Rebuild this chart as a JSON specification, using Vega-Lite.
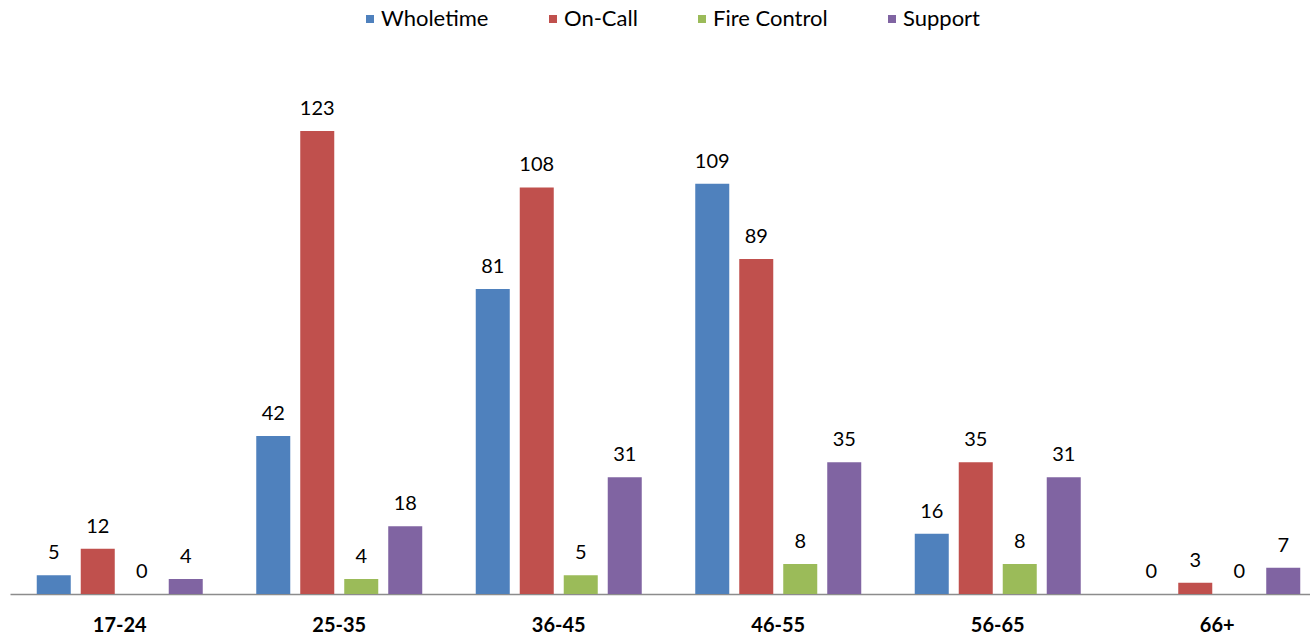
{
  "$schema": "https://vega.github.io/schema/vega-lite/v6.json",
  "autosize": {"type": "none"},
  "width": 1317,
  "height": 527,
  "padding": {"left": 10, "top": 67, "right": 0, "bottom": 41},
  "background": "white",
  "config": {
    "view": {"stroke": null},
    "font": "Lato"
  },
  "data": {
    "values": [
      {"age": "17-24", "group": "Wholetime", "count": 5},
      {"age": "17-24", "group": "On-Call", "count": 12},
      {"age": "17-24", "group": "Fire Control", "count": 0},
      {"age": "17-24", "group": "Support", "count": 4},
      {"age": "25-35", "group": "Wholetime", "count": 42},
      {"age": "25-35", "group": "On-Call", "count": 123},
      {"age": "25-35", "group": "Fire Control", "count": 4},
      {"age": "25-35", "group": "Support", "count": 18},
      {"age": "36-45", "group": "Wholetime", "count": 81},
      {"age": "36-45", "group": "On-Call", "count": 108},
      {"age": "36-45", "group": "Fire Control", "count": 5},
      {"age": "36-45", "group": "Support", "count": 31},
      {"age": "46-55", "group": "Wholetime", "count": 109},
      {"age": "46-55", "group": "On-Call", "count": 89},
      {"age": "46-55", "group": "Fire Control", "count": 8},
      {"age": "46-55", "group": "Support", "count": 35},
      {"age": "56-65", "group": "Wholetime", "count": 16},
      {"age": "56-65", "group": "On-Call", "count": 35},
      {"age": "56-65", "group": "Fire Control", "count": 8},
      {"age": "56-65", "group": "Support", "count": 31},
      {"age": "66+", "group": "Wholetime", "count": 0},
      {"age": "66+", "group": "On-Call", "count": 3},
      {"age": "66+", "group": "Fire Control", "count": 0},
      {"age": "66+", "group": "Support", "count": 7}
    ]
  },
  "encoding": {
    "x": {
      "field": "age",
      "type": "nominal",
      "sort": null,
      "scale": {"paddingInner": 0, "paddingOuter": 0},
      "axis": {
        "title": null,
        "labelAngle": 0,
        "labelFont": "Lato",
        "labelFontSize": 20,
        "labelFontWeight": "bold",
        "labelColor": "#000000",
        "labelPadding": 21,
        "ticks": false,
        "domainColor": "#8c8c8c",
        "domainWidth": 1.5,
        "grid": false
      }
    },
    "xOffset": {
      "field": "group",
      "type": "nominal",
      "sort": ["Wholetime", "On-Call", "Fire Control", "Support"],
      "scale": {"paddingInner": 0.227, "paddingOuter": 0.608}
    },
    "y": {
      "field": "count",
      "type": "quantitative",
      "scale": {"domain": [0, 140], "nice": false},
      "axis": null
    }
  },
  "layer": [
    {
      "mark": {"type": "bar"},
      "encoding": {
        "color": {
          "field": "group",
          "type": "nominal",
          "sort": ["Wholetime", "On-Call", "Fire Control", "Support"],
          "scale": {
            "domain": ["Wholetime", "On-Call", "Fire Control", "Support"],
            "range": ["#4F81BD", "#C0504D", "#9BBB59", "#8064A2"]
          },
          "legend": {
            "title": null,
            "orient": "none",
            "direction": "horizontal",
            "legendX": 349,
            "legendY": -59,
            "symbolType": "square",
            "symbolSize": 64,
            "symbolStrokeWidth": 0,
            "labelFont": "Lato",
            "labelFontSize": 22,
            "labelColor": "#000000",
            "labelOffset": 0,
            "columnPadding": 53
          }
        }
      }
    },
    {
      "mark": {
        "type": "text",
        "baseline": "alphabetic",
        "dy": -16,
        "font": "Lato",
        "fontSize": 20,
        "color": "#000000"
      },
      "encoding": {
        "text": {"field": "count", "type": "quantitative"}
      }
    }
  ]
}
